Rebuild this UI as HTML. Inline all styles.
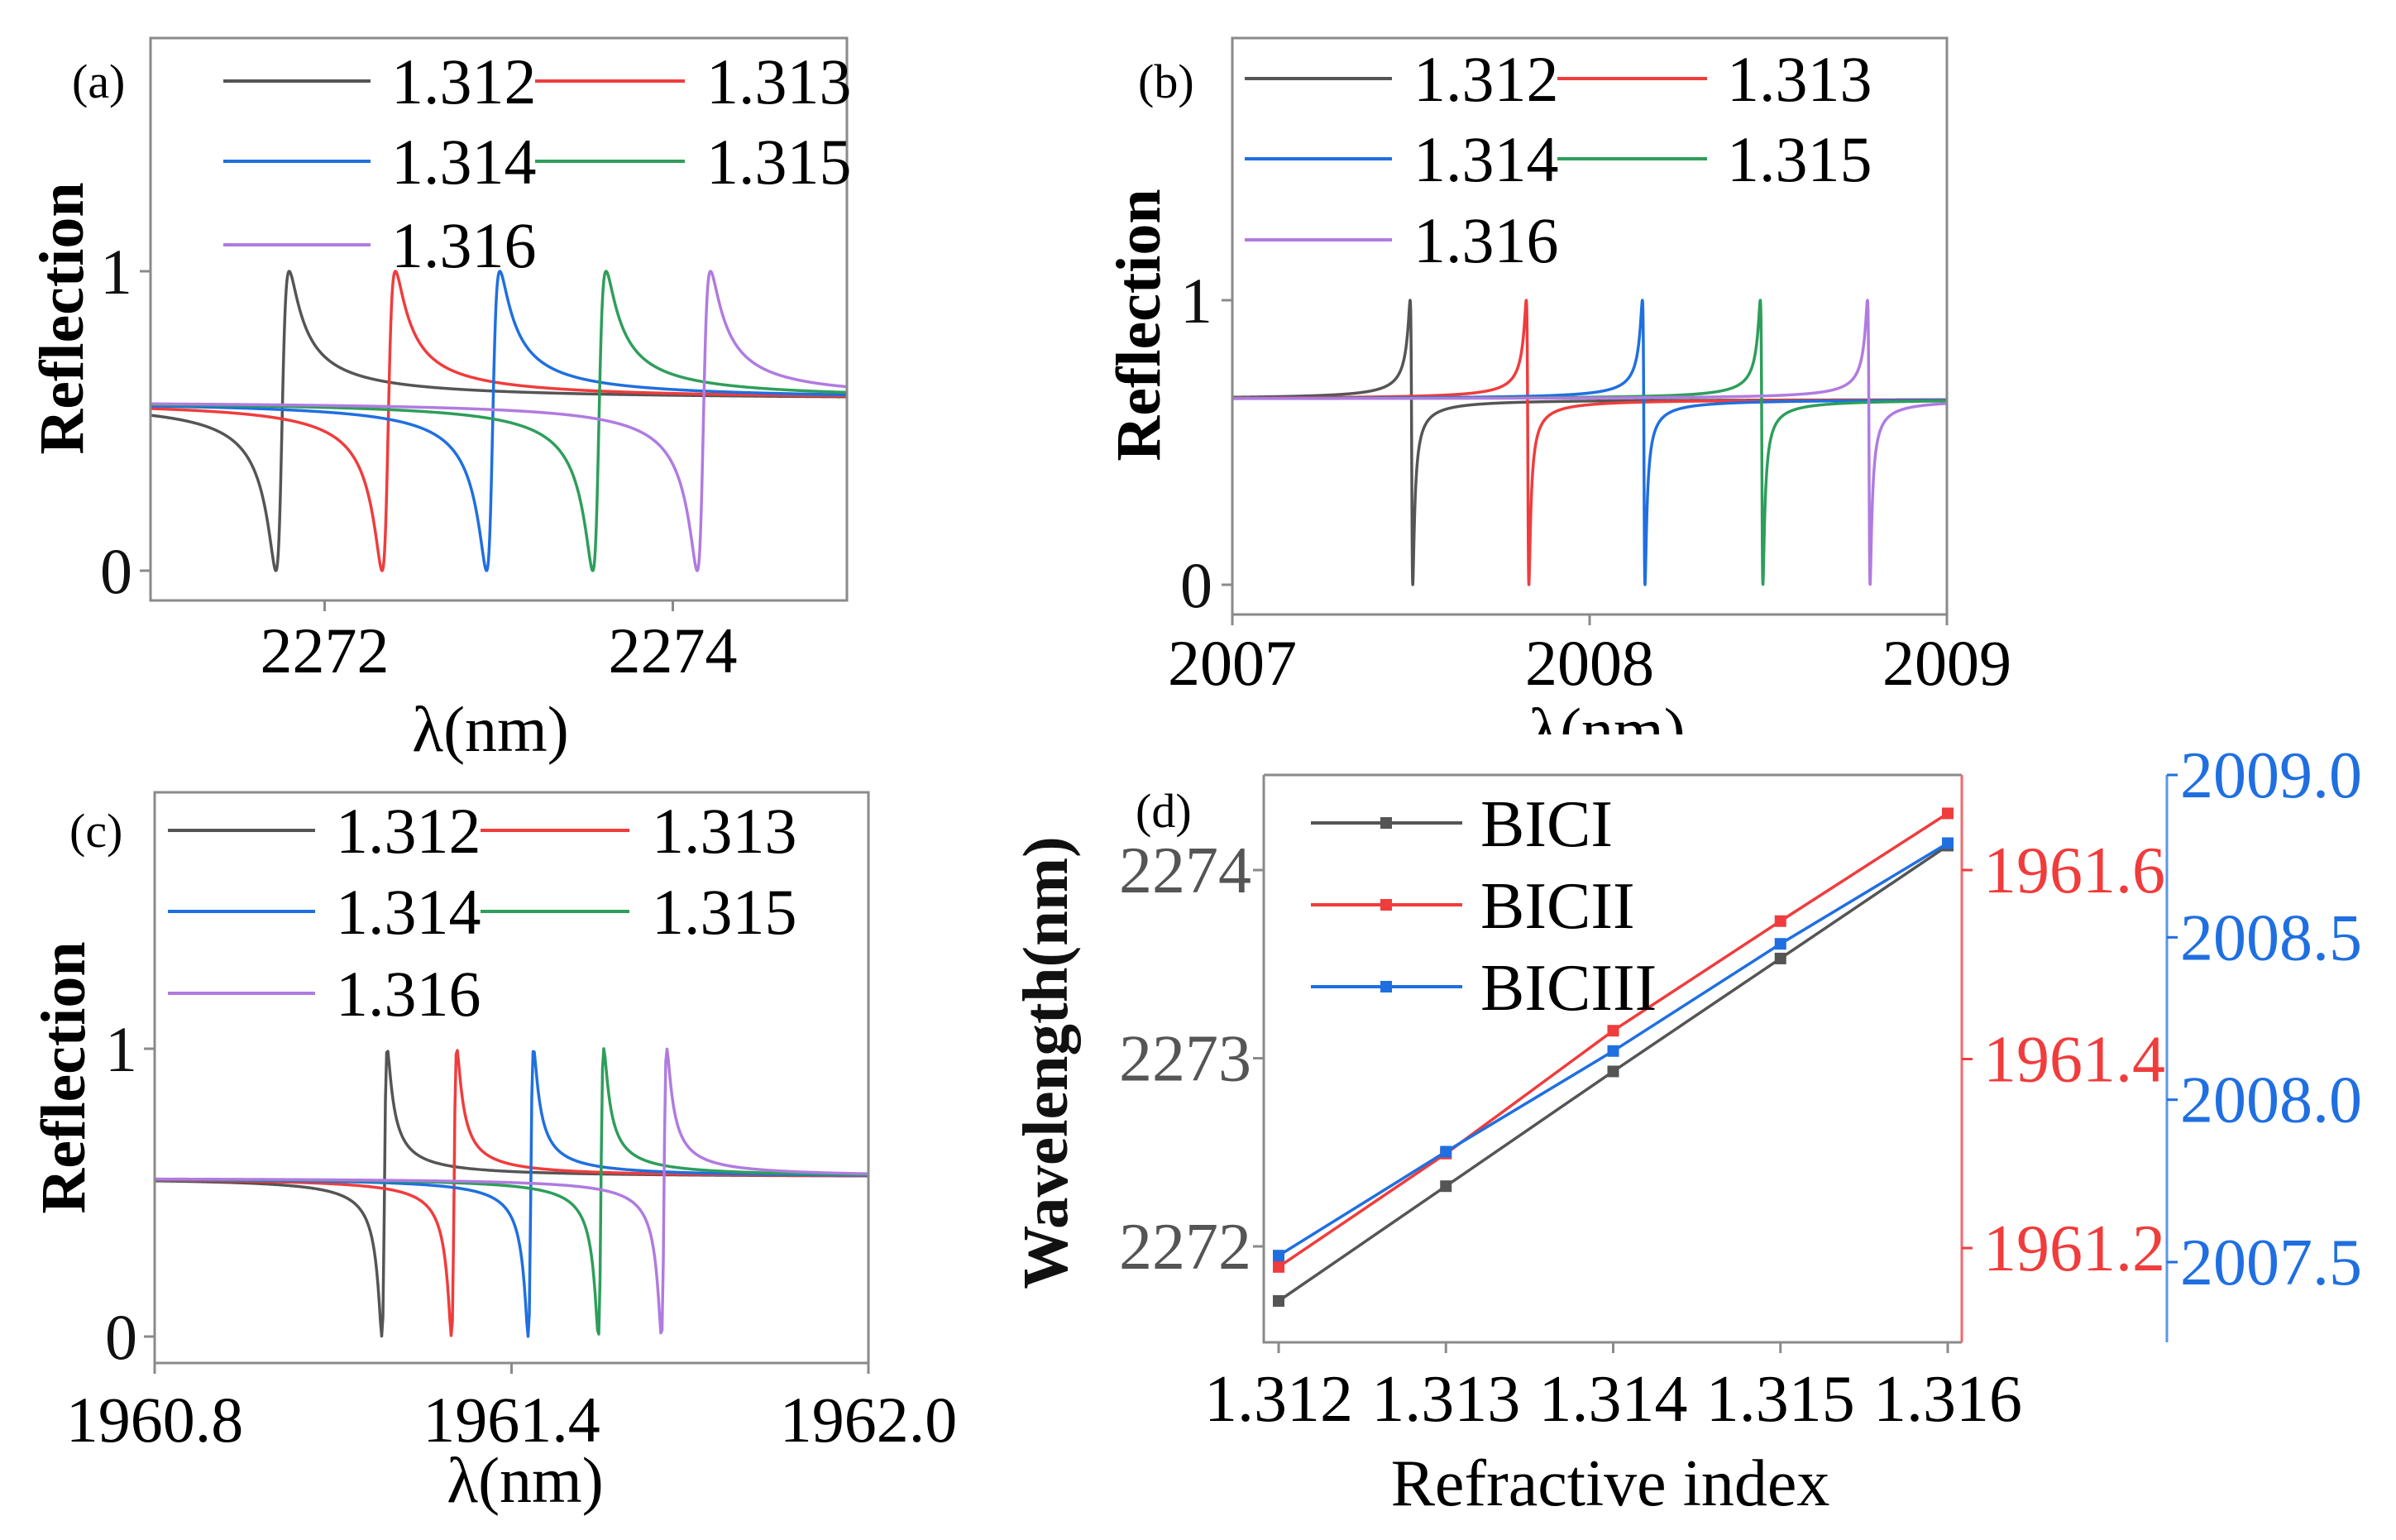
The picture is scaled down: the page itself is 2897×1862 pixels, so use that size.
<!DOCTYPE html>
<html><head><meta charset="utf-8"><style>
html,body{margin:0;padding:0;background:#fff;}
svg{display:block;}
text{font-family:"Liberation Serif",serif;}
</style></head><body>
<svg id="fig" xmlns="http://www.w3.org/2000/svg" width="2897" height="1862" viewBox="0 0 2897 1862" font-family="Liberation Serif, serif">
<defs>
<clipPath id="clipA"><rect x="182" y="46" width="842" height="680"/></clipPath>
<clipPath id="clipB"><rect x="1490" y="46" width="864" height="697"/></clipPath>
<clipPath id="clipC"><rect x="187" y="958" width="863" height="690"/></clipPath>
<clipPath id="clipBx"><rect x="1300" y="0" width="1300" height="888"/></clipPath>
</defs>
<g id="static">
<text x="87" y="118" font-size="58">(a)</text>
<text x="1376" y="118" font-size="58">(b)</text>
<text x="84" y="1024" font-size="58">(c)</text>
<text x="1373" y="1000" font-size="58">(d)</text>
<text transform="translate(100,385) rotate(-90)" text-anchor="middle" font-size="76" font-weight="bold">Reflection</text>
<text transform="translate(1402,393) rotate(-90)" text-anchor="middle" font-size="76" font-weight="bold">Reflection</text>
<text transform="translate(102,1303) rotate(-90)" text-anchor="middle" font-size="76" font-weight="bold">Reflection</text>
<text transform="translate(1290,1285) rotate(-90)" text-anchor="middle" font-size="77" font-weight="bold" fill="#111">Wavelength(nm)</text>
<text x="593" y="908" text-anchor="middle" font-size="78">λ(nm)</text>
<text x="1943" y="910" text-anchor="middle" font-size="78" clip-path="url(#clipBx)">λ(nm)</text>
<text x="635" y="1816" text-anchor="middle" font-size="78">λ(nm)</text>
<text x="1947" y="1820" text-anchor="middle" font-size="80">Refractive index</text>
</g>
<g id="dyn" font-family="Liberation Serif, serif"></g>
</svg>
<script>
// ---- data ----
const indices = ["1.312","1.313","1.314","1.315","1.316"];
const colors = ["#555555","#f03c3c","#1f6fe0","#2e9e5b","#b07be0"];
// panel (a): dip wavelengths and Fano parameters
const dipsA = [2271.72, 2272.33, 2272.93, 2273.54, 2274.14];
const qA = 0.87, gammaA = 0.038;
// panel (b)
const dipsB = [2007.505, 2007.83, 2008.155, 2008.485, 2008.785];
const qB = -0.73, gammaB = 0.0035;
// panel (c)
const dipsC = [1961.182, 1961.299, 1961.428, 1961.546, 1961.652];
const qC = 0.9, gammaC = 0.0045;
// panel (d)
const riValues = [1.312, 1.313, 1.314, 1.315, 1.316];
const bic1 = [2271.71, 2272.32, 2272.93, 2273.53, 2274.13];
const bic2 = [1961.18, 1961.30, 1961.43, 1961.546, 1961.66];
const bic3 = [2007.52, 2007.84, 2008.15, 2008.48, 2008.79];
const ticksAx = [2272, 2274];
const ticksBx = [2007, 2008, 2009];
const ticksCx = [1960.8, 1961.4, 1962.0];
const ticksCxLabels = ["1960.8","1961.4","1962.0"];
const ticksRefl = [0, 1];
const ticksDLeft = [2272, 2273, 2274];
const ticksDRed = [1961.2, 1961.4, 1961.6];
const ticksDRedLabels = ["1961.2","1961.4","1961.6"];
const ticksDBlue = [2007.5, 2008.0, 2008.5, 2009.0];
const ticksDBlueLabels = ["2007.5","2008.0","2008.5","2009.0"];
const bicNames = ["BICI","BICII","BICIII"];
const bicColors = ["#555555","#f03c3c","#1f6fe0"];

const NS = "http://www.w3.org/2000/svg";
const root = document.getElementById("dyn");
function el(tag, parent){ const e = document.createElementNS(NS, tag); (parent||root).appendChild(e); if(tag==="text"){e.setAttribute("font-family","Liberation Serif, serif");} return e; }
function lin(d0,d1,r0,r1){ return v => r0 + (v-d0)/(d1-d0)*(r1-r0); }
function fano(lam, dip, q, g){ const l0 = dip + q*g; const e=(lam-l0)/g; return ((e+q)*(e+q)/(1+e*e))/(1+q*q); }

function frame(P, name){
  const r = el("rect");
  r.setAttribute("x",P.L); r.setAttribute("y",P.T); r.setAttribute("width",P.R-P.L); r.setAttribute("height",P.B-P.T);
  r.setAttribute("fill","none"); r.setAttribute("stroke","#8a8a8a"); r.setAttribute("stroke-width","3");
  
  
}
function xTicks(P, sx, vals, labels, baseline, name){
  vals.forEach((v,i)=>{
    const x = sx(v);
    const t = el("line"); t.setAttribute("x1",x); t.setAttribute("x2",x); t.setAttribute("y1",P.B); t.setAttribute("y2",P.B+13);
    t.setAttribute("stroke","#8a8a8a"); t.setAttribute("stroke-width","3");
    
    
    const tx = el("text"); tx.setAttribute("x",x); tx.setAttribute("y",baseline); tx.setAttribute("text-anchor","middle"); tx.setAttribute("font-size","78");
    tx.textContent = labels ? labels[i] : String(v);
    
    
  });
}
function yTicks(x0, sy, vals, labels, dir, color, size, name, labelX, anchor){
  vals.forEach((v,i)=>{
    const y = sy(v);
    const t = el("line"); t.setAttribute("x1",x0); t.setAttribute("x2",x0+dir*13); t.setAttribute("y1",y); t.setAttribute("y2",y);
    t.setAttribute("stroke",(color==="#111"||color==="#555555")?"#8a8a8a":color); t.setAttribute("stroke-width","3");
    
    
    const tx = el("text"); tx.setAttribute("x",labelX); tx.setAttribute("y",y+27); tx.setAttribute("text-anchor",anchor); tx.setAttribute("font-size",size);
    tx.setAttribute("fill",color);
    tx.textContent = labels ? labels[i] : String(v);
    
    
  });
}
function legend5(P, x1, x2, tx1, x3, x4, tx2, rows, prefix){
  indices.forEach((lab,i)=>{
    const col = i%2, row = Math.floor(i/2);
    const a = col? x3:x1, b = col? x4:x2, t = col? tx2:tx1, y = rows[row];
    const l = el("line"); l.setAttribute("x1",a); l.setAttribute("x2",b); l.setAttribute("y1",y); l.setAttribute("y2",y);
    l.setAttribute("stroke",colors[i]); l.setAttribute("stroke-width","4");
    
    
    const tt = el("text"); tt.setAttribute("x",t); tt.setAttribute("y",y+27); tt.setAttribute("font-size","78");
    tt.textContent = lab;
    
    
  });
}
function spectra(P, sx, sy, x0, x1, dips, q, g, clip, prefix, step){
  dips.forEach((d,i)=>{
    let pts=[];
    for(let px=P.L; px<=P.R; px+=step){
      const lam = x0 + (px-P.L)/(P.R-P.L)*(x1-x0);
      pts.push(sx(lam).toFixed(2)+","+sy(fano(lam,d,q,g)).toFixed(2));
    }
    const p = el("polyline"); p.setAttribute("points",pts.join(" ")); p.setAttribute("fill","none");
    p.setAttribute("stroke",colors[i]); p.setAttribute("stroke-width","3.5"); p.setAttribute("stroke-linejoin","round");
    p.setAttribute("clip-path","url(#"+clip+")");
    
    
  });
}

// ---- panel a ----
const PA={L:182,R:1024,T:46,B:726};
const sxA=lin(2271,2275,PA.L,PA.R), syA=lin(0,1,690,328);
spectra(PA,sxA,syA,2271,2275,dipsA,qA,gammaA,"clipA","a",0.5);
frame(PA,"a-plot-frame");
xTicks(PA,sxA,ticksAx,null,813,"a-x");
yTicks(PA.L,syA,ticksRefl,null,-1,"#111","78","a-y",160,"end");
legend5(PA,270,448,473,647,828,854,[98,195,296],"a");

// ---- panel b ----
const PB={L:1490,R:2354,T:46,B:743};
const sxB=lin(2007,2009,PB.L,PB.R), syB=lin(0,1,707,363);
spectra(PB,sxB,syB,2007,2009,dipsB,qB,gammaB,"clipB","b",0.2);
frame(PB,"b-plot-frame");
xTicks(PB,sxB,ticksBx,null,828,"b-x");
yTicks(PB.L,syB,ticksRefl,null,-1,"#111","78","b-y",1466,"end");
legend5(PB,1505,1683,1709,1883,2064,2088,[95,192,290],"b");

// ---- panel c ----
const PC={L:187,R:1050,T:958,B:1648};
const sxC=lin(1960.8,1962.0,PC.L,PC.R), syC=lin(0,1,1616,1268);
spectra(PC,sxC,syC,1960.8,1962.0,dipsC,qC,gammaC,"clipC","c",1.5);
frame(PC,"c-plot-frame");
xTicks(PC,sxC,ticksCx,ticksCxLabels,1743,"c-x");
yTicks(PC.L,syC,ticksRefl,null,-1,"#111","78","c-y",166,"end");
legend5(PC,203,381,406,581,761,788,[1004,1102,1201],"c");

// ---- panel d ----
const PD={L:1528,R:2372,T:937,B:1623};
const sxD=lin(1.312,1.316,1546,2355);
const syL=lin(2272,2274,1507,1052), syR=lin(1961.2,1961.6,1509,1052), syBl=lin(2007.5,2009.0,1526,937);
[["M"+PD.L+","+PD.T+"H"+PD.R,"d-frame-top"],["M"+PD.L+","+PD.T+"V"+PD.B+"H"+PD.R,"d-frame-left-bottom"]].forEach(f=>{
  const p=el("path"); p.setAttribute("d",f[0]); p.setAttribute("fill","none"); p.setAttribute("stroke","#8a8a8a"); p.setAttribute("stroke-width","3");
  
  
});
const ra=el("line"); ra.setAttribute("x1",PD.R); ra.setAttribute("x2",PD.R); ra.setAttribute("y1",PD.T); ra.setAttribute("y2",PD.B); ra.setAttribute("stroke","#f06a6a"); ra.setAttribute("stroke-width","3");


const ba=el("line"); ba.setAttribute("x1",2620); ba.setAttribute("x2",2620); ba.setAttribute("y1",PD.T); ba.setAttribute("y2",PD.B); ba.setAttribute("stroke","#5a95ea"); ba.setAttribute("stroke-width","3");


riValues.forEach((v,i)=>{
  const x=sxD(v);
  const t=el("line"); t.setAttribute("x1",x); t.setAttribute("x2",x); t.setAttribute("y1",PD.B); t.setAttribute("y2",PD.B+13); t.setAttribute("stroke","#8a8a8a"); t.setAttribute("stroke-width","3");
  
  
  const tx=el("text"); tx.setAttribute("x",x); tx.setAttribute("y",1718); tx.setAttribute("text-anchor","middle"); tx.setAttribute("font-size","80");
  tx.textContent=indices[i];
  
  
});
yTicks(PD.L,syL,ticksDLeft,null,-1,"#555555","80","d-left-y",1513,"end");
yTicks(PD.R,syR,ticksDRed,ticksDRedLabels,1,"#f03c3c","80","d-red-y",2398,"start");
yTicks(2620,syBl,ticksDBlue,ticksDBlueLabels,1,"#1f6fe0","80","d-blue-y",2636,"start");
[[bic1,syL],[bic2,syR],[bic3,syBl]].forEach((s,k)=>{
  const pts=s[0].map((v,i)=>sxD(riValues[i]).toFixed(1)+","+s[1](v).toFixed(1));
  const p=el("polyline"); p.setAttribute("points",pts.join(" ")); p.setAttribute("fill","none"); p.setAttribute("stroke",bicColors[k]); p.setAttribute("stroke-width","3.5");
  
  
  s[0].forEach((v,i)=>{
    const m=el("rect"); m.setAttribute("x",sxD(riValues[i])-7); m.setAttribute("y",s[1](v)-7); m.setAttribute("width",14); m.setAttribute("height",14); m.setAttribute("fill",bicColors[k]);
    
    
  });
});
const legY=[995,1094,1193];
bicNames.forEach((n,k)=>{
  const l=el("line"); l.setAttribute("x1",1585); l.setAttribute("x2",1768); l.setAttribute("y1",legY[k]); l.setAttribute("y2",legY[k]); l.setAttribute("stroke",bicColors[k]); l.setAttribute("stroke-width","4");
  
  
  const m=el("rect"); m.setAttribute("x",1669); m.setAttribute("y",legY[k]-7); m.setAttribute("width",14); m.setAttribute("height",14); m.setAttribute("fill",bicColors[k]);
  
  
  const t=el("text"); t.setAttribute("x",1790); t.setAttribute("y",legY[k]+28); t.setAttribute("font-size","80"); t.textContent=n;
  
  
});
</script>
</body></html>
